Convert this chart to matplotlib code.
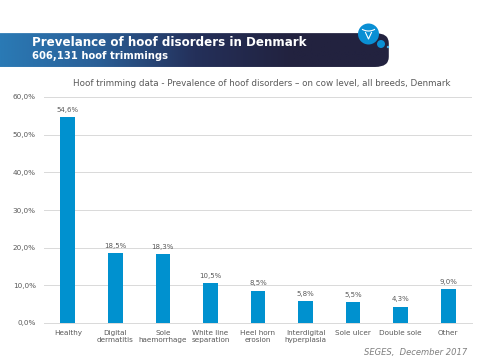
import matplotlib.pyplot as plt
import numpy as np
from matplotlib.colors import LinearSegmentedColormap
from matplotlib.patches import FancyBboxPatch, Ellipse
from matplotlib.lines import Line2D

categories = ["Healthy", "Digital\ndermatitis", "Sole\nhaemorrhage", "White line\nseparation",
              "Heel horn\nerosion", "Interdigital\nhyperplasia", "Sole ulcer", "Double sole", "Other"]
values = [54.6, 18.5, 18.3, 10.5, 8.5, 5.8, 5.5, 4.3, 9.0]
yticks = [0, 10, 20, 30, 40, 50, 60]

fig = plt.figure(figsize=(4.8, 3.6), dpi=100)

# banner
bax = fig.add_axes([0, 0.814, 0.81, 0.094])
bax.set_xlim(0, 1)
bax.set_ylim(0, 1)
bax.axis("off")
cmap = LinearSegmentedColormap.from_list("banner", ["#2a7ab5", "#2a5f97", "#24305a", "#22223f", "#22223f"])
grad = np.linspace(0, 1, 256).reshape(1, -1)
im = bax.imshow(grad, cmap=cmap, extent=[0, 1, 0, 1], aspect="auto")
shape = FancyBboxPatch((-0.05, 0), 1.05, 1, boxstyle="round,pad=0,rounding_size=0.035",
                       mutation_aspect=8.5, transform=bax.transData, facecolor="none", edgecolor="none")
bax.add_patch(shape)
im.set_clip_path(shape)

fig.text(32 / 480, 1 - 42 / 360, "Prevelance of hoof disorders in Denmark", color="white",
         fontsize=8.6, fontweight="bold", va="center", ha="left")
fig.text(32 / 480, 1 - 56 / 360, "606,131 hoof trimmings", color="white",
         fontsize=7.2, fontweight="bold", va="center", ha="left")


def dot(cx, cy, r, color):
    fig.patches.append(Ellipse((cx / 480, 1 - cy / 360), 2 * r / 480, 2 * r / 360,
                               transform=fig.transFigure, facecolor=color, edgecolor="none"))


# logo
dot(368.5, 34, 10.5, "#0a8fd4")
dot(381, 44, 4, "#0a8fd4")
dot(388, 47, 1.2, "#4fb4e8")
t = np.linspace(-1, 1, 20)
fig.lines.append(Line2D((368.5 + 6 * t) / 480, 1 - (29.5 + 1.5 * (1 - t ** 2)) / 360,
                        transform=fig.transFigure, color="white", linewidth=0.8))
fig.lines.append(Line2D(np.array([365.5, 368.5, 371.5]) / 480, 1 - np.array([32.5, 39, 32.5]) / 360,
                        transform=fig.transFigure, color="white", linewidth=0.8))

# chart
ax = fig.add_axes([44 / 480, 1 - 323 / 360, 428 / 480, 226 / 360])
x = np.arange(len(categories))
ax.bar(x, values, width=0.31, color="#0091cf", zorder=3)
for xi, v in zip(x, values):
    ax.text(xi, v + 1.2, f"{v:.1f}%".replace(".", ","), ha="center", va="bottom",
            fontsize=5, color="#595959")
ax.set_xlim(-0.5, len(categories) - 0.5)
ax.set_ylim(0, 60)
ax.set_yticks(yticks)
ax.set_yticklabels([f"{t:.1f}%".replace(".", ",") for t in yticks])
ax.set_xticks(x)
ax.set_xticklabels(categories)
ax.tick_params(axis="both", length=0, labelsize=5.2, colors="#595959")
ax.tick_params(axis="y", pad=6)
ax.tick_params(axis="x", pad=5)
ax.grid(axis="y", color="#d9d9d9", linewidth=0.7, zorder=0)
for s in ["top", "right", "left"]:
    ax.spines[s].set_visible(False)
ax.spines["bottom"].set_color("#d9d9d9")
ax.spines["bottom"].set_linewidth(0.7)

fig.text(262 / 480, 1 - 84 / 360,
         "Hoof trimming data - Prevalence of hoof disorders \u2013 on cow level, all breeds, Denmark",
         ha="center", va="center", fontsize=6.3, color="#595959")
fig.text(467 / 480, 1 - 352 / 360, "SEGES,  December 2017", ha="right", va="center",
         fontsize=6, color="#7f7f7f", style="italic")

fig.savefig("out.png", dpi=100)
